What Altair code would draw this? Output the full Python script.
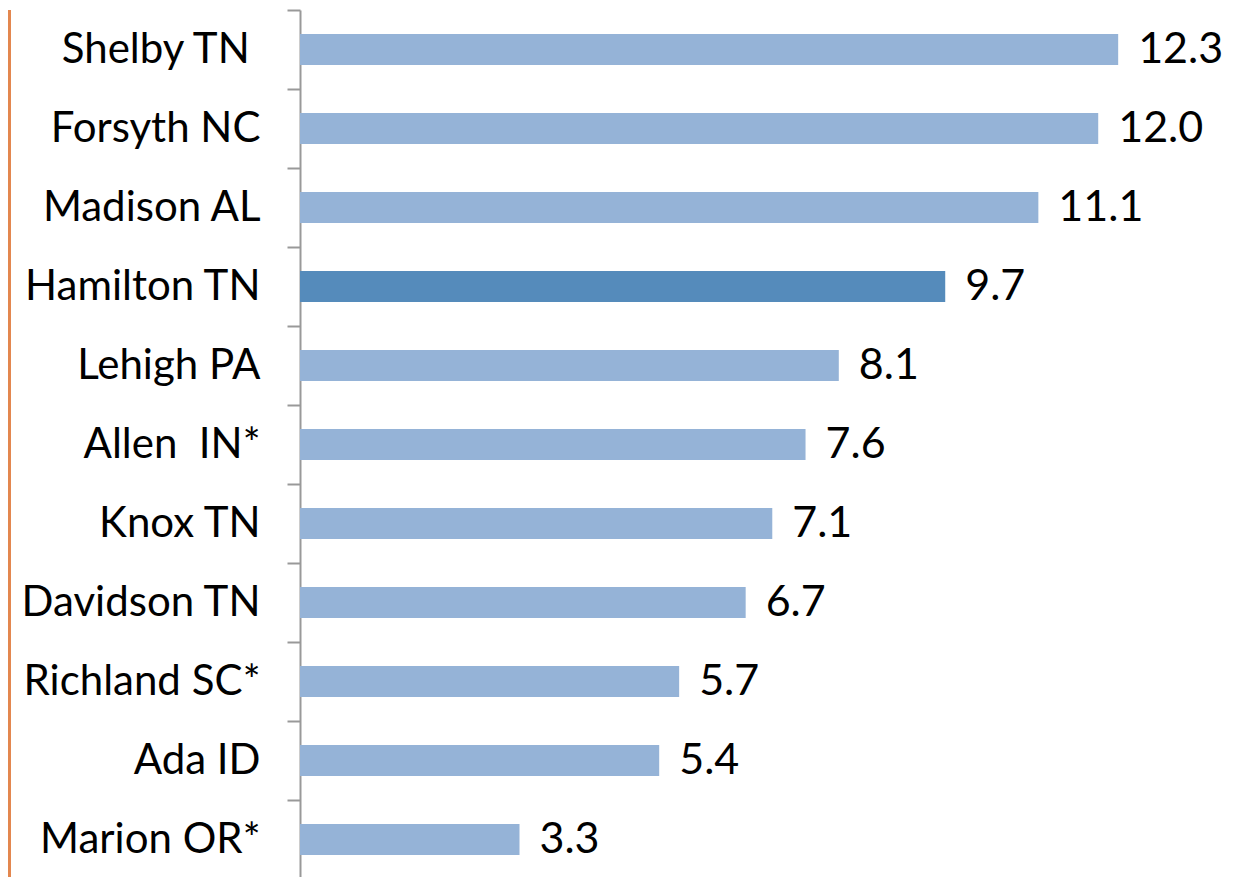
import altair as alt
import pandas as pd

counties = ["Shelby TN\u00a0\u200b", "Forsyth NC", "Madison AL", "Hamilton TN", "Lehigh PA",
            "Allen\u00a0\u00a0IN*", "Knox TN", "Davidson TN", "Richland SC*", "Ada ID", "Marion OR*"]
values = [12.3, 12.0, 11.1, 9.7, 8.1, 7.6, 7.1, 6.7, 5.7, 5.4, 3.3]
highlight = "Hamilton TN"

df = pd.DataFrame({"county": counties, "value": values})

LIGHT = "#95B3D7"
DARK = "#558BBB"
FONT = "Lato"

y_enc = alt.Y(
    "county:N", sort=None, title=None,
    scale=alt.Scale(paddingInner=0, paddingOuter=0),
    axis=alt.Axis(
        domainColor="#999999", domainWidth=2,
        tickColor="#999999", tickWidth=2, tickSize=13,
        labelPadding=27, labelFontSize=42, labelFont=FONT, labelColor="black",
        bandPosition=0, minExtent=292, maxExtent=292, labelLimit=0,
    ),
)
x_enc = alt.X("value:Q", axis=None, scale=alt.Scale(domain=[0, 13.5], nice=False, zero=True))

bars = alt.Chart(df).mark_bar(height=31).encode(
    y=y_enc, x=x_enc,
    color=alt.condition(alt.datum.county == highlight, alt.value(DARK), alt.value(LIGHT)),
)

labels = alt.Chart(df).mark_text(
    align="left", baseline="middle", dx=20, fontSize=43, font=FONT, color="black"
).encode(y=y_enc, x=x_enc, text=alt.Text("value:Q", format=".1f"))

edge = alt.Chart(df).mark_rule(color="#E3874F", strokeWidth=3).encode(
    x=alt.value(-290.5), y=alt.value(0), y2=alt.value(869)
)

chart = alt.layer(bars, labels, edge).properties(
    width=898, height=869, padding=0
).configure_view(stroke=None)

chart.save("out.html", embed_options={"renderer": "svg", "actions": False})
